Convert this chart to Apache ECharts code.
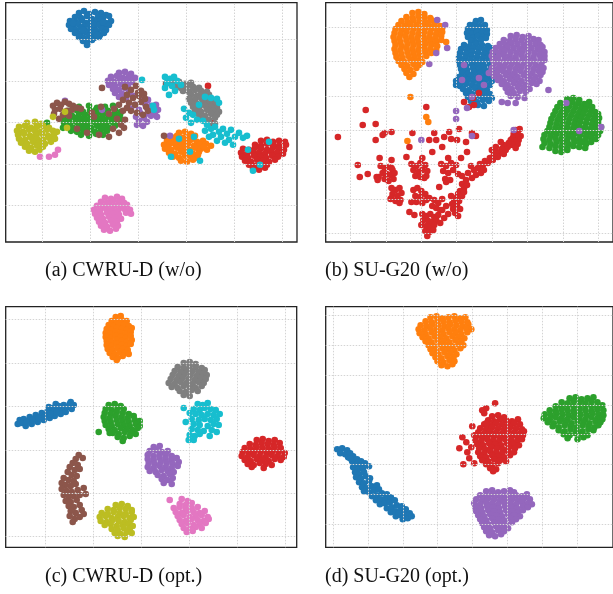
<!DOCTYPE html>
<html><head><meta charset="utf-8">
<script src="https://cdn.jsdelivr.net/npm/echarts@6/dist/echarts.min.js"></script>
<style>html,body{margin:0;padding:0;background:#fff}#c{width:613px;height:594px}</style>
</head><body><div id="c"></div>
<script>
const captions = ['(a) CWRU-D (w/o)', '(b) SU-G20 (w/o)', '(c) CWRU-D (opt.)', '(d) SU-G20 (opt.)'];
const classColors = ['#1f77b4','#ff7f0e','#2ca02c','#d62728','#9467bd','#8c564b','#e377c2','#7f7f7f','#bcbd22','#17becf'];

// ---------- panel (a): CWRU-D (w/o) ----------
const aGridX = [-96.3,-48.3,-0.3,47.7,95.7,143.7];
const aGridY = [83.7,42,0.3,-41.3,-83];
const aBlue = [[-60,110],[-55,112],[-50,109],[-44,111],[-38,110],[-33,108],[-64,106],[-58,105],[-52,107],[-47,104],[-41,106],[-36,105],[-30,107],[-69,102],[-63,101],[-57,103],[-53,100],[-48,102],[-43,101],[-38,103],[-33,100],[-28,102],[-70,98],[-66,96],[-61,99],[-55,97],[-50,98],[-45,96],[-40,98],[-35,97],[-30,98],[-68,94],[-63,93],[-58,95],[-53,92],[-48,94],[-42,92],[-37,94],[-33,93],[-64,90],[-59,89],[-54,91],[-49,88],[-44,90],[-39,88],[-35,90],[-60,86],[-55,85],[-50,87],[-45,85],[-40,86],[-56,82],[-51,81],[-47,83],[-52,78],[-66,100],[-46,99],[-36,101],[-56,93],[-42,88]];
const aOrange = [[40,-10],[46,-9],[52,-11],[32,-14],[38,-13],[44,-15],[50,-14],[56,-13],[28,-18],[34,-17],[40,-19],[46,-18],[52,-17],[58,-19],[64,-18],[25,-22],[31,-21],[37,-23],[43,-22],[49,-21],[55,-23],[61,-22],[67,-21],[72,-23],[26,-26],[32,-27],[38,-25],[44,-26],[50,-27],[56,-25],[62,-26],[68,-27],[30,-30],[36,-31],[42,-29],[48,-30],[54,-31],[60,-29],[34,-34],[40,-35],[46,-33],[52,-34],[58,-35],[42,-38],[48,-39],[54,-37],[35,-20],[47,-24],[59,-32],[65,-24],[29,-25]];
const aGreen = [[-60,16],[-50,17],[-42,15],[-34,16],[-26,17],[-70,12],[-63,13],[-56,11],[-49,12],[-43,13],[-37,11],[-31,12],[-24,13],[-18,11],[-74,8],[-67,7],[-60,9],[-54,8],[-48,7],[-42,9],[-36,8],[-30,7],[-24,9],[-19,8],[-76,4],[-70,3],[-64,5],[-58,4],[-52,3],[-46,5],[-40,4],[-34,3],[-28,5],[-22,4],[-17,3],[-75,0],[-69,-1],[-63,1],[-57,0],[-51,-1],[-45,1],[-39,0],[-33,-1],[-27,1],[-21,0],[-72,-4],[-66,-5],[-60,-3],[-54,-4],[-48,-5],[-42,-3],[-36,-4],[-30,-5],[-24,-3],[-68,-8],[-62,-9],[-56,-7],[-50,-8],[-44,-9],[-38,-7],[-32,-8],[-58,-12],[-50,-13],[-43,-11],[-36,-12],[-92,0],[-76,-5]];
const aRed = [[122,-18],[128,-17],[134,-19],[140,-18],[146,-19],[116,-22],[122,-23],[128,-21],[134,-22],[140,-23],[147,-22],[104,-26],[110,-27],[116,-25],[122,-26],[128,-27],[134,-25],[140,-26],[145,-27],[102,-30],[108,-31],[114,-29],[120,-30],[126,-31],[132,-29],[138,-30],[144,-31],[103,-34],[109,-35],[115,-33],[121,-34],[127,-35],[133,-33],[139,-34],[106,-38],[112,-39],[118,-37],[124,-38],[130,-39],[136,-37],[110,-42],[116,-43],[122,-41],[128,-42],[114,-46],[120,-47],[126,-45],[69,37],[73,0]];
const aPurple = [[-20,50],[-14,51],[-8,49],[-28,46],[-22,47],[-16,45],[-10,46],[-4,45],[-31,42],[-25,41],[-19,43],[-13,42],[-7,41],[-30,38],[-24,37],[-18,39],[-11,38],[-26,34],[-20,33],[-14,35],[-24,30],[-17,29],[-10,31],[-20,26],[-13,25],[-6,27],[3,22],[9,23],[-4,18],[6,19],[12,17],[17,18],[-8,14],[0,13],[8,15],[14,14],[19,13],[1,10],[10,9],[16,10],[-3,6],[5,5],[12,7],[18,6],[0,2],[8,1],[-2,-2],[4,-3],[-74,22],[-37,13],[31,-13]];
const aBrown = [[-86,17],[-82,20],[-78,18],[-74,21],[-70,19],[-66,17],[-84,13],[-79,14],[-72,12],[-67,13],[-62,15],[-85,9],[-76,8],[-80,4],[-70,7],[-58,14],[-47,10],[-38,16],[-30,9],[-25,14],[-20,18],[-16,12],[-22,4],[-18,-2],[-26,-6],[-20,-10],[-15,-5],[-14,3],[-52,-10],[-62,-6],[-40,-12],[-30,-14],[-45,6],[-14,36],[-8,33],[-3,37],[2,32],[-12,28],[-6,25],[0,27],[5,29],[-10,20],[-4,18],[2,21],[7,16],[-8,12],[-2,10],[4,8],[9,12],[-12,15],[6,24],[-16,23],[-1,30],[-37,35],[27,39],[25,-13]];
const aPink = [[-34,-75],[-28,-76],[-22,-74],[-17,-76],[-38,-79],[-32,-80],[-26,-78],[-20,-79],[-15,-80],[-42,-83],[-36,-84],[-30,-82],[-24,-83],[-18,-84],[-12,-82],[-45,-87],[-39,-88],[-33,-86],[-27,-87],[-21,-88],[-15,-86],[-9,-87],[-44,-91],[-38,-92],[-32,-90],[-26,-91],[-20,-92],[-13,-90],[-8,-91],[-42,-95],[-36,-96],[-30,-94],[-24,-95],[-18,-96],[-40,-99],[-34,-100],[-28,-98],[-22,-99],[-38,-103],[-32,-104],[-26,-102],[-21,-103],[-35,-107],[-29,-108],[-23,-106],[-99,-34],[-90,-34],[-84,-32],[-81,-27]];
const aGray = [[34,40],[40,41],[46,39],[52,40],[36,36],[42,35],[48,37],[54,36],[60,35],[44,32],[50,31],[56,33],[62,32],[68,31],[52,28],[58,27],[64,29],[70,28],[50,24],[56,23],[62,25],[68,24],[74,23],[52,20],[58,19],[64,21],[70,20],[76,19],[54,16],[60,15],[66,17],[72,16],[78,15],[56,12],[62,11],[68,13],[74,12],[80,11],[60,8],[66,7],[72,9],[78,8],[64,4],[70,3],[76,5],[70,0],[76,-1]];
const aOlive = [[-112,0],[-104,1],[-98,-1],[-120,-4],[-114,-3],[-108,-5],[-102,-4],[-96,-3],[-90,-5],[-122,-8],[-116,-9],[-110,-7],[-104,-8],[-98,-9],[-92,-7],[-86,-8],[-82,-9],[-121,-12],[-115,-11],[-109,-13],[-103,-12],[-97,-11],[-91,-13],[-85,-12],[-120,-16],[-114,-17],[-108,-15],[-102,-16],[-96,-17],[-90,-15],[-84,-16],[-118,-20],[-112,-21],[-106,-19],[-100,-20],[-94,-21],[-88,-19],[-114,-24],[-108,-25],[-102,-23],[-96,-24],[-110,-28],[-104,-29],[-99,-27],[-86,6],[-74,11],[-72,-5]];
const aCyan = [[26,46],[31,44],[35,46],[38,42],[28,40],[33,37],[26,35],[30,28],[36,32],[42,38],[72,25],[78,24],[80,20],[45,14],[50,10],[47,5],[54,8],[58,3],[52,0],[60,18],[66,26],[64,2],[68,-2],[66,-8],[72,-6],[76,-4],[74,-12],[80,-9],[84,-6],[82,-14],[88,-11],[92,-7],[90,-17],[96,-14],[100,-10],[104,-15],[108,-13],[86,-20],[78,-18],[70,-14],[94,-22],[51,-29],[61,-38],[32,-34],[40,-16],[55,-14],[114,-48],[121,-42],[109,-27],[130,-19],[3,43],[14,17],[15,13]];

// ---------- panel (b): SU-G20 (w/o) ----------
const bGridX = [-106.3,-70.7,-35.3,0.3,36.3,72,107.7,143.3];
const bGridY = [102.7,68.7,34,-0.3,-34.3,-69,-103.3];
const bBlue = [[20,109],[25,110],[14,105],[19,106],[24,104],[29,105],[12,101],[17,100],[22,102],[27,101],[31,100],[11,97],[16,96],[21,98],[26,97],[31,96],[12,93],[17,92],[22,94],[27,93],[30,92],[15,89],[20,88],[25,90],[8,85],[14,84],[20,86],[26,85],[32,84],[5,81],[11,80],[17,82],[23,81],[29,80],[35,82],[4,77],[10,76],[16,78],[22,77],[28,76],[34,78],[40,77],[3,73],[9,72],[15,74],[21,73],[27,72],[33,74],[39,73],[3,69],[9,68],[15,70],[21,69],[27,68],[33,70],[38,69],[4,65],[10,64],[16,66],[22,65],[28,64],[34,66],[5,61],[11,60],[17,62],[23,61],[29,60],[35,62],[6,57],[12,56],[18,58],[24,57],[30,56],[36,58],[3,53],[9,52],[15,54],[21,53],[27,52],[33,54],[0,49],[6,48],[12,50],[18,49],[24,48],[30,50],[36,49],[0,45],[4,44],[10,46],[16,45],[22,44],[28,46],[34,45],[7,41],[13,40],[19,42],[25,41],[31,40],[10,37],[16,36],[22,38],[28,37],[34,36],[12,33],[18,32],[24,34],[30,33],[36,32],[15,29],[21,28],[27,30],[33,29],[22,25],[28,24]];
const bOrange = [[-44,117],[-38,118],[-32,116],[-50,113],[-44,112],[-38,114],[-32,113],[-26,112],[-55,109],[-49,108],[-43,110],[-37,109],[-31,108],[-25,110],[-20,109],[-58,105],[-52,104],[-46,106],[-40,105],[-34,104],[-28,106],[-22,105],[-16,104],[-61,101],[-55,100],[-49,102],[-43,101],[-37,100],[-31,102],[-25,101],[-19,100],[-14,102],[-62,97],[-56,96],[-50,98],[-44,97],[-38,96],[-32,98],[-26,97],[-20,96],[-14,98],[-63,93],[-57,92],[-51,94],[-45,93],[-39,92],[-33,94],[-27,93],[-21,92],[-15,94],[-62,89],[-56,88],[-50,90],[-44,89],[-38,88],[-32,90],[-26,89],[-20,88],[-15,90],[-61,85],[-55,84],[-49,86],[-43,85],[-37,84],[-31,86],[-25,85],[-19,84],[-62,81],[-56,80],[-50,82],[-44,81],[-38,80],[-32,82],[-26,81],[-20,80],[-61,77],[-55,76],[-49,78],[-43,77],[-37,76],[-31,78],[-25,77],[-60,73],[-54,72],[-48,74],[-42,73],[-36,72],[-30,74],[-58,69],[-52,68],[-46,70],[-40,69],[-34,68],[-55,65],[-49,64],[-43,66],[-37,65],[-52,61],[-46,60],[-40,62],[-50,57],[-43,56],[-47,53],[-46,33],[-30,13],[-28,8],[-49,-11],[-10,88]];
const bGreen = [[112,31],[118,32],[124,30],[105,27],[111,26],[117,28],[123,27],[129,26],[134,28],[102,23],[108,22],[114,24],[120,23],[126,22],[132,24],[137,23],[100,19],[106,18],[112,20],[118,19],[124,18],[130,20],[136,19],[140,18],[98,15],[104,14],[110,16],[116,15],[122,14],[128,16],[134,15],[140,14],[143,16],[96,11],[102,10],[108,12],[114,11],[120,10],[126,12],[132,11],[138,10],[144,12],[95,7],[101,6],[107,8],[113,7],[119,6],[125,8],[131,7],[137,6],[143,8],[94,3],[100,2],[106,4],[112,3],[118,2],[124,4],[130,3],[136,2],[142,4],[146,3],[92,-1],[98,-2],[104,0],[110,-1],[116,-2],[122,0],[128,-1],[134,-2],[140,0],[145,-1],[89,-5],[95,-6],[101,-4],[107,-5],[113,-6],[119,-4],[125,-5],[131,-6],[137,-4],[143,-5],[88,-9],[94,-10],[100,-8],[106,-9],[112,-10],[118,-8],[124,-9],[130,-10],[136,-8],[141,-9],[89,-13],[95,-14],[101,-12],[107,-13],[113,-14],[119,-12],[125,-13],[131,-14],[136,-12],[87,-17],[94,-18],[100,-16],[106,-17],[112,-18],[118,-16],[124,-17],[130,-18],[100,-21],[106,-22],[112,-20]];
const bRed = [[64,1],[60,0],[62,-3],[58,-4],[65,-6],[61,-7],[57,-8],[63,-10],[59,-11],[55,-10],[62,-14],[57,-15],[53,-13],[60,-18],[52,-17],[48,-15],[50,-20],[46,-19],[44,-23],[48,-24],[41,-22],[42,-27],[38,-25],[37,-30],[34,-28],[32,-33],[29,-31],[27,-35],[24,-34],[45,-12],[40,-17],[36,-20],[22,-38],[18,-40],[25,-42],[15,-36],[20,-45],[12,-43],[28,-40],[16,-48],[10,-50],[6,-54],[8,-58],[4,-61],[2,-64],[6,-66],[0,-68],[3,-71],[-2,-72],[1,-76],[-3,-79],[4,-79],[-1,-83],[8,-62],[11,-55],[-5,-66],[-4,-74],[2,-86],[6,-46],[-34,-84],[-30,-86],[-26,-84],[-22,-87],[-18,-85],[-33,-90],[-28,-91],[-24,-92],[-20,-90],[-35,-95],[-30,-96],[-26,-97],[-22,-95],[-31,-101],[-27,-102],[-23,-100],[-29,-106],[-16,-93],[-12,-88],[-8,-84],[-14,-80],[-10,-76],[-76,-36],[-72,-38],[-68,-37],[-64,-40],[-74,-43],[-70,-44],[-66,-45],[-62,-43],[-72,-49],[-68,-51],[-63,-49],[-78,-47],[-65,-58],[-61,-60],[-57,-58],[-64,-64],[-59,-66],[-55,-63],[-66,-69],[-61,-71],[-56,-70],[-45,-34],[-40,-36],[-36,-33],[-31,-35],[-43,-40],[-38,-42],[-34,-40],[-29,-41],[-41,-46],[-36,-47],[-30,-46],[-43,-60],[-39,-58],[-35,-61],[-41,-66],[-36,-67],[-31,-64],[-40,-72],[-34,-73],[-30,-70],[-15,-34],[-10,-36],[-5,-33],[0,-35],[-13,-41],[-8,-43],[-3,-40],[2,-44],[-11,-49],[-6,-50],[-22,-70],[-18,-73],[-14,-69],[-20,-78],[-16,-80],[-24,-76],[-99,-35],[-97,-47],[-89,-44],[-80,-47],[-79,-50],[-94,5],[-81,6],[-81,-10],[-74,-5],[-77,-28],[-65,-30],[-50,-27],[-47,-17],[-44,-3],[-34,-28],[-32,-48],[-24,-22],[-20,-10],[-12,-7],[-14,-17],[-8,-28],[-5,-9],[3,1],[5,-28],[11,-22],[20,-6],[25,-43],[-45,-72],[-57,-73],[-65,-68],[-47,-82],[-42,-85],[-27,-68],[-17,-57],[-10,-52],[-65,-38],[-72,-3],[-65,-2],[-27,-10],[-22,-3],[-7,-2],[1,-10],[10,-12],[16,-3],[-119,-7],[-91,20],[-30,23],[23,37],[17,32],[18,25],[13,23],[8,28]];
const bPurple = [[55,94],[61,95],[67,93],[73,94],[48,90],[54,89],[60,91],[66,90],[72,89],[78,91],[83,90],[44,86],[50,85],[56,87],[62,86],[68,85],[74,87],[80,86],[85,85],[40,82],[46,81],[52,83],[58,82],[64,81],[70,83],[76,82],[82,81],[87,83],[37,78],[43,77],[49,79],[55,78],[61,77],[67,79],[73,78],[79,77],[85,79],[89,78],[36,74],[42,73],[48,75],[54,74],[60,73],[66,75],[72,74],[78,73],[84,75],[89,74],[37,70],[43,69],[49,71],[55,70],[61,69],[67,71],[73,70],[79,69],[85,71],[89,70],[38,66],[44,65],[50,67],[56,66],[62,65],[68,67],[74,66],[80,65],[86,67],[36,62],[42,61],[48,63],[54,62],[60,61],[66,63],[72,62],[78,61],[84,63],[88,62],[35,58],[41,57],[47,59],[53,58],[59,57],[65,59],[71,58],[77,57],[83,59],[87,58],[38,54],[44,53],[50,55],[56,54],[62,53],[68,55],[74,54],[80,53],[85,55],[42,50],[48,49],[54,51],[60,50],[66,49],[72,51],[78,50],[84,49],[46,46],[52,45],[58,47],[64,46],[70,45],[76,47],[81,46],[50,42],[56,41],[62,43],[68,42],[74,41],[52,38],[58,37],[64,39],[70,38],[55,34],[62,33],[-19,110],[-11,105],[-9,82],[-20,77],[-27,66],[93,40],[0,19],[0,11],[-35,-10],[16,-6],[58,0],[111,27],[146,3],[124,-1],[46,28],[52,27],[60,27],[69,32],[6,50],[8,65],[23,52],[33,57],[28,45],[16,33],[11,22]];

// ---------- panel (c): CWRU-D (opt.) ----------
const cGridX = [-96.7,-48.4,0,48,96,144];
const cGridY = [130.7,86.7,43.3,0,-43.3,-86.7];
const cBlue = [[-124,26],[-122,30],[-119,27],[-118,31],[-116,24],[-113,29],[-112,33],[-110,26],[-107,31],[-106,35],[-104,28],[-101,33],[-100,37],[-98,30],[-96,35],[-94,39],[-92,32],[-90,37],[-89,42],[-87,34],[-86,46],[-84,40],[-83,44],[-81,36],[-79,41],[-78,45],[-76,38],[-74,43],[-72,46],[-70,41],[-68,45],[-71,48],[-115,28],[-109,30],[-103,32],[-97,34],[-91,36],[-85,38],[-80,43],[-93,43],[-121,27]];
const cOrange = [[-26,133],[-21,134],[-30,129],[-25,128],[-20,130],[-15,129],[-33,125],[-28,124],[-23,126],[-18,125],[-13,124],[-35,121],[-30,120],[-25,122],[-20,121],[-15,120],[-10,122],[-36,117],[-31,116],[-26,118],[-21,117],[-16,116],[-11,118],[-36,113],[-31,112],[-26,114],[-21,113],[-16,112],[-11,114],[-35,109],[-30,108],[-25,110],[-20,109],[-15,108],[-10,110],[-35,105],[-30,104],[-25,106],[-20,105],[-15,104],[-11,106],[-34,101],[-29,100],[-24,102],[-19,101],[-14,100],[-32,97],[-27,96],[-22,98],[-17,97],[-13,96],[-29,93],[-24,92],[-19,94],[-25,90]];
const cGreen = [[-33,45],[-27,46],[-21,44],[-36,41],[-30,40],[-24,42],[-18,41],[-37,37],[-31,36],[-25,38],[-19,37],[-13,36],[-38,33],[-32,32],[-26,34],[-20,33],[-14,32],[-8,34],[-37,29],[-31,28],[-25,30],[-19,29],[-13,28],[-7,30],[-2,29],[-36,25],[-30,24],[-24,26],[-18,25],[-12,24],[-6,26],[-2,24],[-33,21],[-27,20],[-21,22],[-15,21],[-9,20],[-4,22],[-29,17],[-23,16],[-17,18],[-11,17],[-6,16],[-24,13],[-18,12],[-12,14],[-19,9],[-43,18],[-32,17]];
const cRed = [[115,10],[121,11],[127,9],[133,10],[108,6],[114,5],[120,7],[126,6],[132,5],[138,7],[103,2],[109,1],[115,3],[121,2],[127,1],[133,3],[139,2],[101,-2],[107,-3],[113,-1],[119,-2],[125,-3],[131,-1],[137,-2],[143,-3],[100,-6],[106,-7],[112,-5],[118,-6],[124,-7],[130,-5],[136,-6],[142,-7],[103,-10],[109,-11],[115,-9],[121,-10],[127,-11],[133,-9],[139,-10],[106,-14],[112,-15],[118,-13],[124,-14],[130,-15],[110,-17],[122,-18]];
const cPurple = [[12,3],[18,4],[8,-1],[14,0],[20,-2],[26,-1],[6,-5],[12,-6],[18,-4],[24,-5],[30,-6],[6,-9],[12,-10],[18,-8],[24,-9],[30,-10],[35,-8],[7,-13],[13,-14],[19,-12],[25,-13],[31,-14],[37,-12],[6,-17],[12,-18],[18,-16],[24,-17],[30,-18],[36,-16],[8,-21],[14,-22],[20,-20],[26,-21],[32,-22],[16,-25],[22,-26],[28,-24],[20,-29],[26,-30],[31,-28],[22,-33],[30,-34]];
const cBrown = [[-63,-5],[-59,-8],[-66,-9],[-69,-13],[-64,-15],[-72,-17],[-67,-20],[-62,-19],[-74,-22],[-70,-25],[-65,-26],[-78,-28],[-73,-30],[-68,-31],[-80,-33],[-76,-35],[-71,-36],[-66,-34],[-80,-39],[-75,-41],[-70,-42],[-64,-40],[-58,-38],[-78,-45],[-73,-47],[-68,-46],[-62,-45],[-56,-44],[-76,-51],[-71,-52],[-65,-50],[-73,-56],[-68,-57],[-62,-55],[-71,-61],[-66,-63],[-60,-60],[-72,-66],[-67,-69],[-62,-67],[-69,-72],[-58,-64]];
const cPink = [[28,-50],[40,-49],[46,-51],[38,-54],[44,-55],[50,-53],[32,-58],[38,-57],[44,-59],[50,-58],[56,-57],[34,-62],[40,-63],[46,-61],[52,-62],[58,-63],[63,-61],[36,-66],[42,-65],[48,-67],[54,-66],[60,-65],[66,-67],[38,-70],[44,-71],[50,-69],[56,-70],[62,-71],[67,-69],[40,-74],[46,-73],[52,-75],[58,-74],[64,-73],[42,-78],[48,-79],[54,-77],[60,-78],[45,-82],[51,-81]];
const cGray = [[42,87],[48,88],[54,86],[36,83],[42,82],[48,84],[54,83],[60,82],[33,79],[39,78],[45,80],[51,79],[57,78],[63,80],[31,75],[37,74],[43,76],[49,75],[55,74],[61,76],[65,75],[29,71],[35,70],[41,72],[47,71],[53,70],[59,72],[64,71],[27,67],[33,66],[39,68],[45,67],[51,66],[57,68],[62,67],[30,63],[36,62],[42,64],[48,63],[54,62],[60,64],[38,59],[44,58],[50,60],[56,59],[42,55],[48,54]];
const cOlive = [[-26,-55],[-20,-54],[-14,-56],[-34,-59],[-28,-60],[-22,-58],[-16,-59],[-10,-60],[-40,-63],[-34,-64],[-28,-62],[-22,-63],[-16,-64],[-10,-62],[-42,-67],[-36,-66],[-30,-68],[-24,-67],[-18,-66],[-12,-68],[-8,-67],[-41,-71],[-35,-72],[-29,-70],[-23,-71],[-17,-72],[-11,-70],[-37,-75],[-31,-74],[-25,-76],[-19,-75],[-13,-74],[-9,-76],[-30,-79],[-24,-80],[-18,-78],[-12,-79],[-27,-83],[-21,-84],[-15,-82],[-10,-83],[-24,-86],[-17,-87]];
const cCyan = [[56,46],[61,45],[66,47],[52,41],[58,40],[63,42],[69,41],[74,40],[42,42],[48,37],[54,36],[60,35],[66,36],[72,35],[78,36],[50,31],[57,30],[63,31],[69,30],[75,31],[44,28],[52,26],[58,25],[66,24],[72,26],[77,25],[50,21],[56,20],[62,19],[70,20],[75,18],[48,15],[53,14],[58,16],[68,14],[47,10],[52,10]];

// ---------- panel (d): SU-G20 (opt.) ----------
const dGridX = [-140,-105,-70,-35,0,35,70.4,105.7];
const dGridY = [119.3,89.3,59.3,29.3,0,-30,-60,-89.7];
const dBlue = [[-136,-15],[-131,-14],[-126,-16],[-133,-19],[-128,-20],[-123,-19],[-125,-23],[-120,-22],[-116,-25],[-112,-27],[-121,-27],[-117,-30],[-113,-31],[-108,-29],[-104,-32],[-120,-33],[-115,-35],[-110,-34],[-118,-38],[-114,-40],[-109,-38],[-117,-43],[-112,-44],[-107,-42],[-114,-48],[-109,-49],[-104,-47],[-111,-53],[-106,-54],[-101,-52],[-96,-51],[-109,-57],[-104,-58],[-99,-56],[-94,-55],[-101,-62],[-96,-61],[-91,-59],[-86,-60],[-97,-66],[-92,-65],[-87,-64],[-82,-63],[-93,-70],[-88,-69],[-83,-68],[-78,-66],[-86,-74],[-81,-73],[-76,-71],[-71,-72],[-82,-78],[-77,-77],[-72,-76],[-67,-75],[-77,-82],[-72,-81],[-67,-80],[-63,-79],[-70,-85],[-65,-84],[-61,-82],[-74,-79],[-123,-24],[-103,-44]];
const dOrange = [[-42,117],[-36,118],[-30,116],[-24,117],[-18,118],[-12,116],[-7,117],[-47,113],[-41,112],[-35,114],[-29,113],[-23,112],[-17,114],[-11,113],[-5,112],[-52,109],[-46,108],[-40,110],[-34,109],[-28,108],[-22,110],[-16,109],[-10,108],[-4,110],[-54,105],[-48,104],[-42,106],[-36,105],[-30,104],[-24,106],[-18,105],[-12,104],[-6,106],[-1,105],[-53,101],[-47,100],[-41,102],[-35,101],[-29,100],[-23,102],[-17,101],[-11,100],[-5,102],[-50,97],[-44,96],[-38,98],[-32,97],[-26,96],[-20,98],[-14,97],[-8,96],[-47,93],[-41,92],[-35,94],[-29,93],[-23,92],[-17,94],[-11,93],[-44,89],[-38,88],[-32,90],[-26,89],[-20,88],[-14,90],[-9,89],[-42,85],[-36,84],[-30,86],[-24,85],[-18,84],[-12,86],[-40,81],[-34,80],[-28,82],[-22,81],[-16,80],[-37,77],[-31,76],[-25,78],[-19,77],[-35,73],[-29,72],[-23,74],[-18,73],[-31,69],[-25,68],[-20,70]];
const dGreen = [[98,36],[104,37],[110,35],[116,36],[122,37],[90,32],[96,31],[102,33],[108,32],[114,31],[120,33],[126,32],[84,28],[90,27],[96,29],[102,28],[108,27],[114,29],[120,28],[126,27],[131,29],[78,24],[84,23],[90,25],[96,24],[102,23],[108,25],[114,24],[120,23],[126,25],[132,24],[73,20],[79,19],[85,21],[91,20],[97,19],[103,21],[109,20],[115,19],[121,21],[127,20],[132,19],[72,16],[78,15],[84,17],[90,16],[96,15],[102,17],[108,16],[114,15],[120,17],[126,16],[131,15],[76,12],[82,11],[88,13],[94,12],[100,11],[106,13],[112,12],[118,11],[124,13],[129,12],[81,8],[87,7],[93,9],[99,8],[105,7],[111,9],[117,8],[123,7],[127,9],[87,4],[93,3],[99,5],[105,4],[111,3],[117,5],[122,4],[92,0],[98,-1],[104,1],[110,0],[116,-1],[96,-4],[106,-5],[112,-3]];
const dRed = [[20,18],[26,19],[32,17],[16,14],[22,13],[28,15],[34,14],[40,13],[46,15],[12,10],[18,9],[24,11],[30,10],[36,9],[42,11],[48,10],[8,6],[14,5],[20,7],[26,6],[32,5],[38,7],[44,6],[50,5],[6,2],[12,1],[18,3],[24,2],[30,1],[36,3],[42,2],[48,1],[52,3],[4,-2],[10,-3],[16,-1],[22,-2],[28,-3],[34,-1],[40,-2],[46,-3],[51,-1],[3,-6],[9,-7],[15,-5],[21,-6],[27,-7],[33,-5],[39,-6],[45,-7],[50,-5],[5,-10],[11,-11],[17,-9],[23,-10],[29,-11],[35,-9],[41,-10],[47,-11],[7,-14],[13,-15],[19,-13],[25,-14],[31,-15],[37,-13],[43,-14],[6,-18],[12,-19],[18,-17],[24,-18],[30,-19],[36,-17],[42,-18],[8,-22],[14,-23],[20,-21],[26,-22],[32,-23],[38,-21],[10,-26],[16,-27],[22,-25],[28,-26],[34,-27],[14,-30],[20,-31],[26,-29],[18,-34],[24,-35],[21,-37],[23,31],[14,26],[10,24],[-10,-3],[-13,-14],[-5,-18],[-9,-30],[2,-1],[12,21],[14,11],[-1,-13],[2,-29],[-6,-8],[-3,-24],[0,8]];
const dPurple = [[14,-57],[20,-56],[26,-58],[32,-57],[38,-56],[42,-58],[8,-61],[14,-62],[20,-60],[26,-61],[32,-62],[38,-60],[44,-61],[50,-62],[55,-60],[4,-65],[10,-66],[16,-64],[22,-65],[28,-66],[34,-64],[40,-65],[46,-66],[52,-64],[58,-65],[2,-69],[8,-70],[14,-68],[20,-69],[26,-70],[32,-68],[38,-69],[44,-70],[50,-68],[56,-69],[60,-70],[3,-73],[9,-74],[15,-72],[21,-73],[27,-74],[33,-72],[39,-73],[45,-74],[51,-72],[56,-73],[4,-77],[10,-78],[16,-76],[22,-77],[28,-78],[34,-76],[40,-77],[46,-78],[51,-76],[6,-81],[12,-82],[18,-80],[24,-81],[30,-82],[36,-80],[42,-81],[48,-82],[8,-85],[14,-86],[20,-84],[26,-85],[32,-86],[38,-84],[44,-85],[10,-89],[16,-90],[22,-88],[28,-89],[34,-90],[40,-88],[12,-93],[18,-94],[24,-92],[30,-93],[36,-94],[14,-97],[20,-98],[26,-96],[32,-97],[17,-101],[23,-102],[29,-100]];

// ---------- layout ----------
const panels = [
  {grid:{left:5.7, top:2.7, width:291.3, height:239.3}, x:[-133.3,158], y:[-119.3,120.3], gx:aGridX, gy:aGridY,
   sets:[aBlue,aOrange,aGreen,aRed,aPurple,aBrown,aPink,aGray,aOlive,aCyan]},
  {grid:{left:325.7, top:2.7, width:289.3, height:239.3}, x:[-131.3,158], y:[-112,127.3], gx:bGridX, gy:bGridY,
   sets:[bBlue,bOrange,bGreen,bRed,bPurple]},
  {grid:{left:5.7, top:306.7, width:291, height:240.6}, x:[-136,155], y:[-97.3,143.3], gx:cGridX, gy:cGridY,
   sets:[cBlue,cOrange,cGreen,cRed,cPurple,cBrown,cPink,cGray,cOlive,cCyan]},
  {grid:{left:325.7, top:306.7, width:289.3, height:240.6}, x:[-147.6,141.7], y:[-113,127.6], gx:dGridX, gy:dGridY,
   sets:[dBlue,dOrange,dGreen,dRed,dPurple]}
];
const capPos = [[45,271],[325,271],[45,577],[325,577]];

const grids = [], xAxes = [], yAxes = [], series = [];
panels.forEach((p, i) => {
  grids.push(Object.assign({show:true, borderColor:'#222', borderWidth:1.3, backgroundColor:'#fff', containLabel:false}, p.grid));
  const ax = {gridIndex:i, type:'value', axisLine:{show:false}, axisTick:{show:false}, axisLabel:{show:false}, splitLine:{show:false}};
  xAxes.push(Object.assign({}, ax, {min:p.x[0], max:p.x[1]}));
  yAxes.push(Object.assign({}, ax, {min:p.y[0], max:p.y[1]}));
  series.push({type:'scatter', xAxisIndex:i, yAxisIndex:i, data:[], silent:true, z:1,
    markLine:{silent:true, symbol:['none','none'], animation:false, label:{show:false},
      lineStyle:{color:'#d4d4d4', width:1, type:[1.5,1.5]},
      data: p.gx.map(v => ({xAxis:v})).concat(p.gy.map(v => ({yAxis:v})))}});
  p.sets.forEach((d, k) => {
    series.push({type:'scatter', xAxisIndex:i, yAxisIndex:i, data:d, symbol:'circle', symbolSize:6.6, z:2,
      large:false,
      itemStyle:{color:classColors[k], opacity:1, borderWidth:0},
      emphasis:{disabled:true}, silent:true});
  });
});

const chart = echarts.init(document.getElementById('c'), null, {renderer:'canvas', width:613, height:594});
chart.setOption({
  animation:false,
  backgroundColor:'#fff',
  grid:grids, xAxis:xAxes, yAxis:yAxes, series:series,
  graphic: captions.map((t, i) => ({type:'text', x:capPos[i][0], y:capPos[i][1], silent:true,
    style:{text:t, fill:'#111', font:'20px "Liberation Serif", "Times New Roman", serif',
      textAlign:'left', textVerticalAlign:'middle', align:'left', verticalAlign:'middle'}}))
});
</script></body></html>
